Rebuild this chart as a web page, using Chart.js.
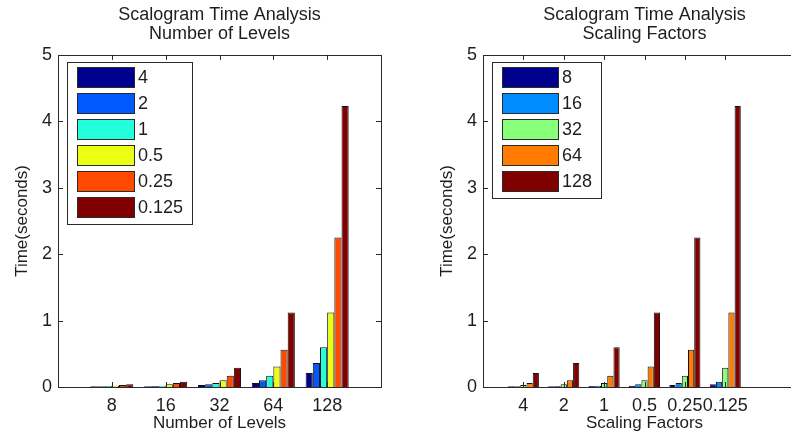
<!DOCTYPE html>
<html>
<head>
<meta charset="utf-8">
<script src="https://cdn.jsdelivr.net/npm/chart.js@4/dist/chart.umd.min.js"></script>
<style>
  html, body { margin: 0; padding: 0; background: #fff; overflow: hidden; width: 791px; height: 440px; }
  canvas { position: absolute; top: 0; }
  #levelsChart { left: 0; }
  #scalesChart { left: 425px; }
</style>
</head>
<body>
<canvas id="levelsChart" width="439" height="440"></canvas>
<canvas id="scalesChart" width="439" height="440"></canvas>
<script>
const levels = ['8', '16', '32', '64', '128']
const scales = ['4', '2', '1', '0.5', '0.25', '0.125']
// seconds per run, one value for each scaling factor (4 ... 0.125)
const time8 = [0.01, 0.01, 0.015, 0.02, 0.03, 0.04]
const time16 = [0.01, 0.015, 0.02, 0.04, 0.06, 0.08]
const time32 = [0.03, 0.04, 0.06, 0.1, 0.17, 0.29]
const time64 = [0.06, 0.1, 0.17, 0.31, 0.56, 1.12]
const time128 = [0.21, 0.36, 0.6, 1.12, 2.25, 4.23]
const yTicks = [0, 1, 2, 3, 4, 5]

// jet colormap picks
const scaleColors = ['#00008f', '#0059ff', '#23ffdc', '#ecff13', '#ff4a00', '#800000']
const levelColors = ['#00008f', '#008bff', '#87ff78', '#ff7c00', '#800000']

const byLevel = [time8, time16, time32, time64, time128]
const FONT = '"Liberation Sans", Arial, sans-serif'
const INK = '#1e1e1e'
Chart.defaults.font.family = FONT
Chart.defaults.font.size = 18

// box round the axes, with ticks pointing inwards on all four sides
const axesFrame = {
  id: 'axesFrame',
  afterDatasetsDraw(chart) {
    const {ctx, chartArea: a, scales: {x, y}} = chart
    ctx.save()
    ctx.strokeStyle = '#2a2a2a'
    ctx.lineWidth = 1
    ctx.beginPath()
    x.ticks.forEach(t => {
      const px = Math.round(x.getPixelForValue(t.value)) + 0.5
      ctx.moveTo(px, a.top); ctx.lineTo(px, a.top + 5)
      ctx.moveTo(px, a.bottom); ctx.lineTo(px, a.bottom - 5)
    })
    y.ticks.forEach(t => {
      const py = Math.round(y.getPixelForValue(t.value)) + 0.5
      ctx.moveTo(a.left, py); ctx.lineTo(a.left + 5, py)
      ctx.moveTo(a.right, py); ctx.lineTo(a.right - 5, py)
    })
    ctx.stroke()
    ctx.strokeRect(Math.round(a.left) + 0.5, Math.round(a.top) + 0.5, Math.round(a.width), Math.round(a.height))
    ctx.restore()
  }
}

// matlab style legend: white box in the upper left corner of the axes
const boxLegend = {
  id: 'boxLegend',
  afterDraw(chart, args, opts) {
    const {ctx, chartArea: a} = chart
    const sets = chart.data.datasets
    ctx.save()
    ctx.font = '18px ' + FONT
    const textW = Math.max(...sets.map(d => ctx.measureText(d.label).width))
    const x0 = Math.round(a.left) + 9
    const y0 = Math.round(a.top) + 7
    const w = Math.round(10 + opts.patchW + 4 + textW + 9)
    const h = sets.length * opts.rowH + 6
    ctx.fillStyle = '#fff'
    ctx.fillRect(x0, y0, w, h)
    ctx.strokeStyle = '#2a2a2a'
    ctx.lineWidth = 1
    ctx.strokeRect(x0 + 0.5, y0 + 0.5, w, h)
    sets.forEach((d, i) => {
      const py = y0 + 5 + i * opts.rowH
      ctx.fillStyle = d.backgroundColor
      ctx.fillRect(x0 + 10, py, opts.patchW, 20)
      ctx.strokeRect(x0 + 10.5, py + 0.5, opts.patchW, 20)
      ctx.fillStyle = INK
      ctx.textBaseline = 'middle'
      ctx.fillText(d.label, x0 + 10 + opts.patchW + 4, py + 11)
    })
    ctx.restore()
  }
}

function makeChart(id, titleLines, xLabel, groupLabels, datasets, xMax, groupWidth, patchW, rowH) {
  return new Chart(document.getElementById(id), {
    type: 'bar',
    data: {datasets: datasets},
    options: {
      responsive: false,
      animation: false,
      layout: {padding: 0},
      categoryPercentage: groupWidth,
      barPercentage: 1,
      plugins: {
        legend: {display: false},
        tooltip: {enabled: false},
        title: {
          display: true, text: titleLines, color: INK,
          font: {size: 18, weight: 'normal', lineHeight: 1.08},
          padding: {top: 5, bottom: 11}
        },
        boxLegend: {patchW: patchW, rowH: rowH}
      },
      scales: {
        x: {
          type: 'linear', min: 0, max: xMax, offset: false,
          grid: {display: false, drawTicks: false},
          border: {display: false},
          afterBuildTicks: s => { s.ticks = groupLabels.map((g, i) => ({value: i + 1})) },
          afterFit: s => { s.height = 53 },
          ticks: {callback: v => groupLabels[v - 1], color: INK, padding: 8, maxRotation: 0, autoSkip: false},
          title: {display: true, text: xLabel, color: INK, font: {size: 17}, padding: {top: 0, bottom: 6}}
        },
        y: {
          min: 0, max: 5,
          grid: {display: false, drawTicks: false},
          border: {display: false},
          afterBuildTicks: s => { s.ticks = yTicks.map(v => ({value: v})) },
          afterFit: s => { s.width = 58 },
          ticks: {color: INK, padding: 6},
          title: {display: true, text: 'Time(seconds)', color: INK, font: {size: 17}, padding: {top: 12, bottom: 0}}
        },
        // unlabelled mirror of the left axis, keeps the axes box centred under the title
        yRight: {
          position: 'right', display: true, min: 0, max: 5,
          grid: {display: false, drawTicks: false},
          border: {display: false},
          ticks: {display: false},
          afterFit: s => { s.width = 58 }
        }
      }
    },
    plugins: [axesFrame, boxLegend]
  })
}

// left: groups are levels, one bar per scaling factor
const levelSets = scales.map((s, j) => ({
  label: s,
  data: levels.map((l, i) => ({x: i + 1, y: byLevel[i][j]})),
  backgroundColor: scaleColors[j],
  borderColor: '#111',
  borderWidth: 1
}))

// right: groups are scaling factors, one bar per level
const scaleSets = levels.map((l, i) => ({
  label: l,
  data: scales.map((s, j) => ({x: j + 1, y: byLevel[i][j]})),
  backgroundColor: levelColors[i],
  borderColor: '#111',
  borderWidth: 1
}))

makeChart('levelsChart', ['Scalogram Time Analysis', 'Number of Levels'], 'Number of Levels',
  levels, levelSets, 6, 0.8, 57, 26)
makeChart('scalesChart', ['Scalogram Time Analysis', 'Scaling Factors'], 'Scaling Factors',
  scales, scaleSets, 8, 0.77, 56, 26)
</script>
</body>
</html>
